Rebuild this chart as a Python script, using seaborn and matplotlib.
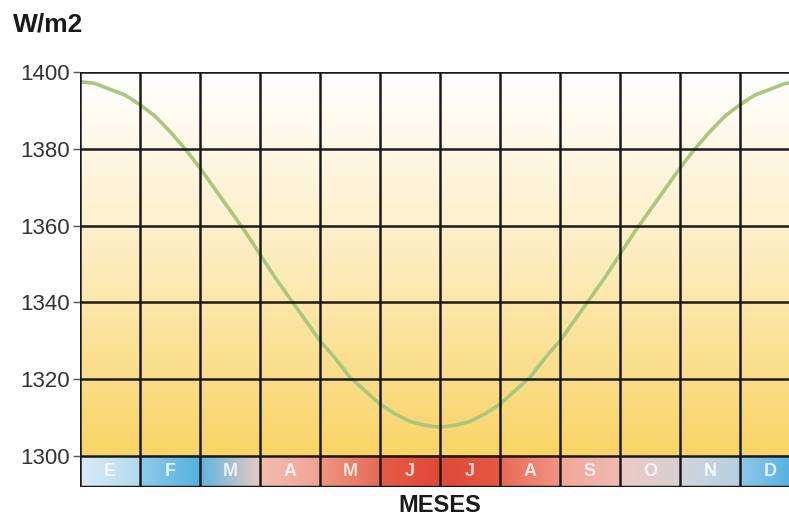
import numpy as np
import matplotlib
matplotlib.use("Agg")
import matplotlib.pyplot as plt
from matplotlib.colors import to_rgb
import pandas as pd
import seaborn as sns

sns.set_style("white")
plt.rcParams['font.family'] = ['Liberation Sans', 'DejaVu Sans']

# months (position in month units from start of January) and irradiance
mes = [0, 0.25, 0.5, 0.75, 1, 1.25, 1.5, 1.75, 2, 2.25, 2.5, 2.75, 3,
       3.25, 3.5, 3.75, 4, 4.25, 4.5, 4.75, 5, 5.25, 5.5, 5.75, 6,
       6.25, 6.5, 6.75, 7, 7.25, 7.5, 7.75, 8, 8.25, 8.5, 8.75, 9,
       9.25, 9.5, 9.75, 10, 10.25, 10.5, 10.75, 11, 11.25, 11.5, 11.75, 12]
irradiancia = [1397.5, 1397, 1395.5, 1394, 1391.5, 1388.5, 1384.5, 1380, 1375, 1369.5, 1364, 1358.5, 1352.5,
               1346.5, 1341, 1335.5, 1330, 1325.5, 1320.5, 1317, 1313.5, 1311, 1309, 1308, 1307.5,
               1308, 1309, 1311, 1313.5, 1317, 1320.5, 1325.5, 1330, 1335.5, 1341, 1346.5, 1352.5,
               1358.5, 1364, 1369.5, 1375, 1380, 1384.5, 1388.5, 1391.5, 1394, 1395.5, 1397, 1397.5]
letras = ['E', 'F', 'M', 'A', 'M', 'J', 'J', 'A', 'S', 'O', 'N', 'D']
y_ticks = [1300, 1320, 1340, 1360, 1380, 1400]

# colour of each month cell (left, right)
band_cols = [('#d9ebf6', '#b4daf0'), ('#8fcaea', '#55b2df'), ('#62b6e0', '#e6c9c2'),
             ('#f3bdb0', '#f0a493'), ('#ee9682', '#e56b56'), ('#e55c48', '#e04836'),
             ('#e04a38', '#e65644'), ('#e86a56', '#f09484'), ('#f1a898', '#efbab2'),
             ('#edc9c5', '#d9cfd1'), ('#d2d5dc', '#b6cfe0'), ('#8fc7e8', '#4eaee0')]

df = pd.DataFrame({'mes': mes, 'W/m2': irradiancia})

fig = plt.figure(figsize=(7.89, 5.20), dpi=100)
ax = fig.add_axes([80 / 789, 33 / 520, 709 / 789, 415 / 520])

ymin = 1300 - 31 / 3.84
ax.set_xlim(0, 709 / 60)
ax.set_ylim(ymin, 1400)

# vertical background gradient white -> yellow
top = np.array(to_rgb('#ffffff'))
mid = np.array(to_rgb('#fdeec4'))
bot = np.array(to_rgb('#fad466'))
t = np.linspace(0, 1, 200)[:, None]
grad = np.where(t < 0.45, top + (mid - top) * (t / 0.45), mid + (bot - mid) * ((t - 0.45) / 0.55))
ax.imshow(grad[:, None, :].repeat(2, axis=1), extent=(0, 12, 1300, 1400), aspect='auto', zorder=0)

# month band
cells = []
for l, r in band_cols:
    a, b = np.array(to_rgb(l)), np.array(to_rgb(r))
    s = np.linspace(0, 1, 30)[:, None]
    cells.append(a + (b - a) * s)
band = np.concatenate(cells)[None, :, :]
ax.imshow(band, extent=(0, 12, ymin, 1300), aspect='auto', zorder=0)

for i, l in enumerate(letras):
    ax.text(i + 0.5, (ymin + 1300) / 2, l, color='white', alpha=0.8, ha='center', va='center',
            fontsize=13, fontweight='bold', zorder=3)

sns.lineplot(data=df, x='mes', y='W/m2', ax=ax, color='#a9c77f', lw=2.6, zorder=2)

# grid
for i in range(13):
    ax.axvline(i, color='#1a1a1a', lw=1.8, zorder=4)
for v in y_ticks:
    ax.axhline(v, color='#1a1a1a', lw=1.8, zorder=4)
ax.axhline(ymin, color='#1a1a1a', lw=2.5, zorder=4)

for s in ax.spines.values():
    s.set_visible(False)

ax.set_yticks(y_ticks)
ax.set_yticklabels([str(v) for v in y_ticks], fontsize=16, color='#333333')
ax.tick_params(axis='y', left=True, length=5, width=1, color='#555555', pad=2)
ax.set_xticks([])
ax.set_xlabel('')
ax.set_ylabel('')

fig.text(440 / 789, 1 - 506 / 520, 'MESES', fontsize=17, fontweight='bold', color='#1a1a1a',
         ha='center', va='center')
fig.text(13 / 789, 1 - 25 / 520, 'W/m2', fontsize=19, fontweight='bold', color='#1a1a1a',
         ha='left', va='center')

fig.savefig('out.png', dpi=100)
